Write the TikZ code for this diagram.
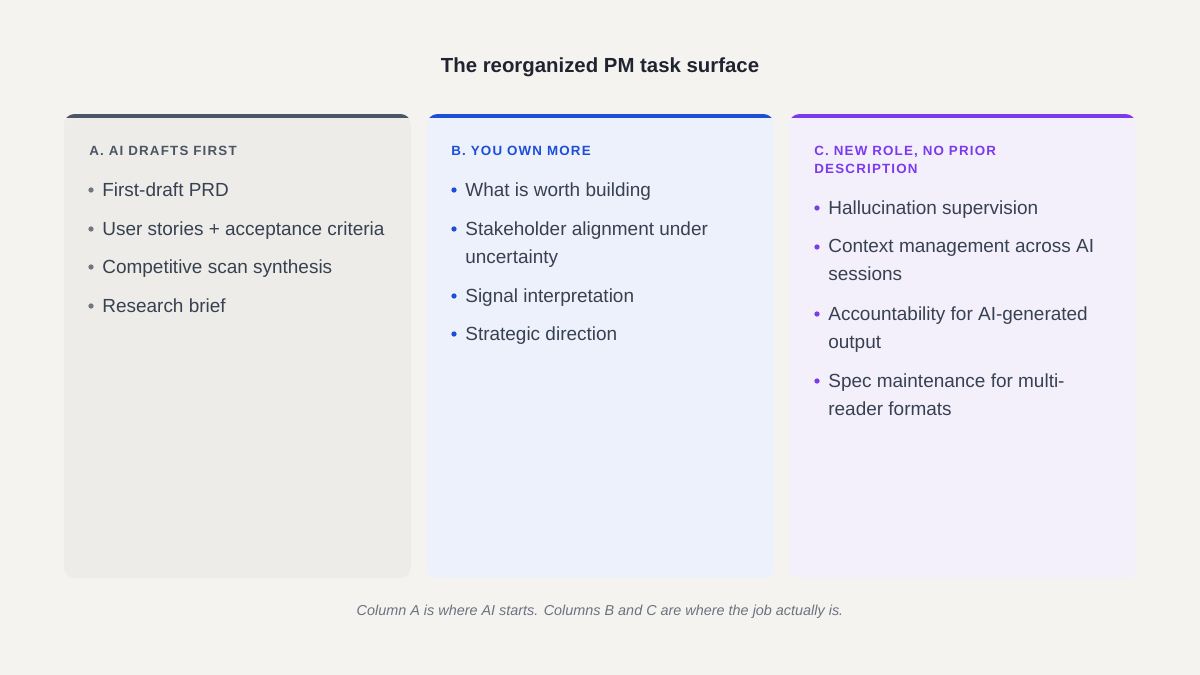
\documentclass[tikz,border=0pt]{standalone}
\usepackage{fontspec}
\setmainfont{Liberation Sans}
\usetikzlibrary{positioning}
\definecolor{pagebg}{HTML}{F4F3EF}
\definecolor{fillA}{HTML}{EDECE8}
\definecolor{fillB}{HTML}{EDF1FC}
\definecolor{fillC}{HTML}{F3F0FC}
\definecolor{barA}{HTML}{4B5563}
\definecolor{barB}{HTML}{1D4ED8}
\definecolor{barC}{HTML}{7C3AED}
\definecolor{itemtext}{HTML}{374151}
\definecolor{titletext}{HTML}{1F2430}
\definecolor{notetext}{HTML}{6B7280}
\tikzset{
  head/.style={anchor=north west,font=\fontsize{7.6}{10.2}\selectfont\bfseries\addfontfeatures{LetterSpace=9},align=left,inner sep=0pt},
  item/.style={anchor=north west,font=\fontsize{10.8}{15.9}\selectfont,text=itemtext,align=left,inner sep=0pt},
  dot/.style={circle,inner sep=0pt,minimum size=3pt}
}
\begin{document}
\begin{tikzpicture}[x=0.02cm,y=-0.02cm]
\fill[pagebg] (0,0) rectangle (1200,675);
\useasboundingbox (0,0) rectangle (1200,675);

\node[font=\fontsize{11.6}{13}\selectfont\bfseries,text=titletext] (title) at (600,67) {The reorganized PM task surface};

% panels
\foreach \x/\c in {64/A,427/B,789/C}{
  \begin{scope}
    \clip[rounded corners=6] (\x,114) rectangle ++(347,464);
    \fill[fill\c] (\x,114) rectangle ++(347,464);
    \fill[bar\c] (\x,114) rectangle ++(347,4);
  \end{scope}
}

% column A
\node[head,text=barA] (headA) at (89,146) {A. AI DRAFTS FIRST};
\foreach \y/\t [count=\i] in {196/First-draft PRD,235/User stories + acceptance criteria,273/Competitive scan synthesis,312/Research brief}{
  \node[item] (itemA\i) at (102,\y-14) {\t};
  \node[dot,fill=barA!80] at (91,\y-6) {};
}

% column B
\node[head,text=barB] (headB) at (451,146) {B. YOU OWN MORE};
\foreach \y/\t [count=\i] in {196/What is worth building,235/{Stakeholder alignment under\\uncertainty},302/Signal interpretation,340/Strategic direction}{
  \node[item] (itemB\i) at (465,\y-14) {\t};
  \node[dot,fill=barB] at (454,\y-6) {};
}

% column C
\node[head,text=barC] (headC) at (814,146) {C. NEW ROLE, NO PRIOR\\DESCRIPTION};
\foreach \y/\t [count=\i] in {214/Hallucination supervision,253/{Context management across AI\\sessions},320/{Accountability for AI-generated\\output},387/{Spec maintenance for multi-\\reader formats}}{
  \node[item] (itemC\i) at (828,\y-14) {\t};
  \node[dot,fill=barC] at (817,\y-6) {};
}

\node[font=\fontsize{8.2}{10}\selectfont\itshape,text=notetext] (note) at (600,612) {Column A is where AI starts. Columns B and C are where the job actually is.};
\end{tikzpicture}
\end{document}
